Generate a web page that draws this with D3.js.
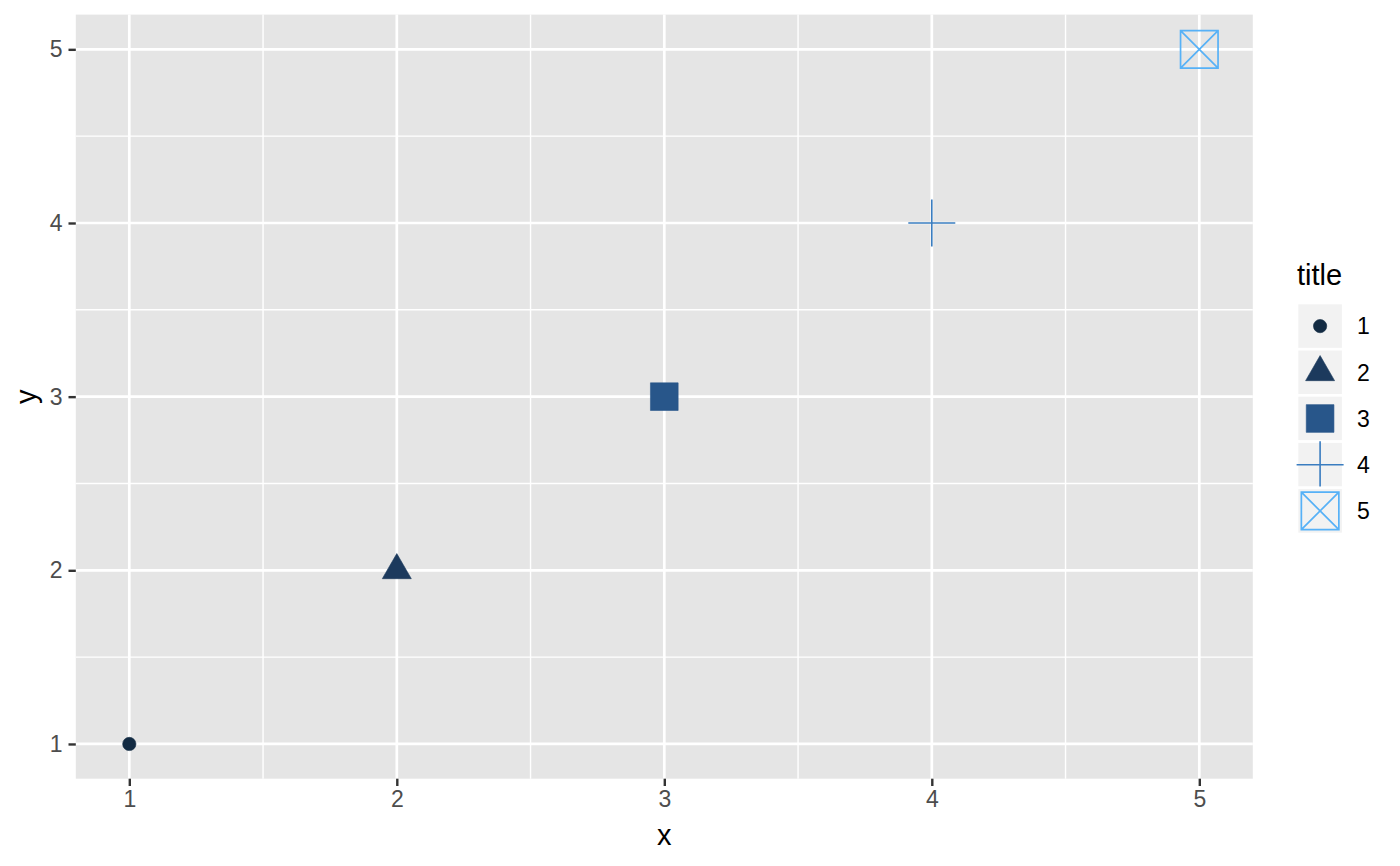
<!DOCTYPE html>
<html>
<head>
<meta charset="utf-8">
<script src="https://cdn.jsdelivr.net/npm/d3@7"></script>
<style>
  body { margin: 0; background: #fff; }
  text { font-family: "Liberation Sans", Helvetica, Arial, sans-serif; }
</style>
</head>
<body>
<div id="chart"></div>
<script>
// Data
const titles = ["1", "2", "3", "4", "5"];
const xValues = [1, 2, 3, 4, 5];
const yValues = [1, 2, 3, 4, 5];
const shapes = ["circle", "triangle", "square", "plus", "boxx"];
const xTicks = [1, 2, 3, 4, 5];
const yTicks = [1, 2, 3, 4, 5];
const xMinor = [1.5, 2.5, 3.5, 4.5];
const yMinor = [1.5, 2.5, 3.5, 4.5];

// Setup
const width = 1400, height = 866;
const margin = { top: 14.6, right: 147.2, bottom: 87.3, left: 75.8 };

const x = d3.scaleLinear()
  .domain([0.8, 5.2])
  .range([margin.left, width - margin.right]);

const y = d3.scaleLinear()
  .domain([0.8, 5.2])
  .range([height - margin.bottom, margin.top]);

// colours
const color = d3.scaleOrdinal()
  .domain(titles)
  .range(["#132B43", "#1C3A5D", "#28568A", "#3A7DC0", "#56B1F7"]);

// custom symbol types, ggplot-like sizes
const plusType = {
  draw(ctx, size) {
    const r = Math.sqrt(size) / 2;
    ctx.moveTo(-r, 0); ctx.lineTo(r, 0);
    ctx.moveTo(0, -r); ctx.lineTo(0, r);
  }
};
const boxXType = {
  draw(ctx, size) {
    const r = Math.sqrt(size) / 2;
    ctx.moveTo(-r, -r); ctx.lineTo(r, -r); ctx.lineTo(r, r); ctx.lineTo(-r, r); ctx.closePath();
    ctx.moveTo(-r, -r); ctx.lineTo(r, r);
    ctx.moveTo(r, -r); ctx.lineTo(-r, r);
  }
};
const symbolInfo = {
  circle:   { type: d3.symbolCircle,   size: 139, filled: true },
  triangle: { type: d3.symbolTriangle, size: 364, filled: true },
  square:   { type: d3.symbolSquare,   size: 767, filled: true },
  plus:     { type: plusType,          size: 47 * 47, filled: false, sw: 1.6 },
  boxx:     { type: boxXType,          size: 37.5 * 37.5, filled: false, sw: 1.7 }
};
const symbolPath = s => d3.symbol().type(symbolInfo[s].type).size(symbolInfo[s].size)();

const data = titles.map((t, i) => ({ title: t, x: xValues[i], y: yValues[i], shape: shapes[i] }));

// Figure
const svg = d3.select("#chart").append("svg")
  .attr("width", width)
  .attr("height", height);

// panel
svg.append("rect")
  .attr("x", x.range()[0])
  .attr("y", y.range()[1])
  .attr("width", x.range()[1] - x.range()[0])
  .attr("height", y.range()[0] - y.range()[1])
  .attr("fill", "#E5E5E5");

const grid = svg.append("g");
grid.selectAll(".xminor").data(xMinor).join("line")
  .attr("x1", d => x(d)).attr("x2", d => x(d))
  .attr("y1", y.range()[0]).attr("y2", y.range()[1])
  .attr("stroke", "#fff").attr("stroke-width", 1.4);
grid.selectAll(".yminor").data(yMinor).join("line")
  .attr("y1", d => y(d)).attr("y2", d => y(d))
  .attr("x1", x.range()[0]).attr("x2", x.range()[1])
  .attr("stroke", "#fff").attr("stroke-width", 1.4);
grid.selectAll(".xmajor").data(xTicks).join("line")
  .attr("x1", d => x(d)).attr("x2", d => x(d))
  .attr("y1", y.range()[0]).attr("y2", y.range()[1])
  .attr("stroke", "#fff").attr("stroke-width", 2.7);
grid.selectAll(".ymajor").data(yTicks).join("line")
  .attr("y1", d => y(d)).attr("y2", d => y(d))
  .attr("x1", x.range()[0]).attr("x2", x.range()[1])
  .attr("stroke", "#fff").attr("stroke-width", 2.7);

// axes
const xAxis = g => g
  .attr("transform", `translate(0,${y.range()[0]})`)
  .call(d3.axisBottom(x).tickValues(xTicks).tickFormat(d3.format("d")).tickSize(7.3).tickPadding(5))
  .call(g => g.select(".domain").remove())
  .call(g => g.selectAll(".tick line").attr("stroke", "#333").attr("stroke-width", 2.4))
  .call(g => g.selectAll(".tick text").attr("fill", "#4D4D4D").attr("font-size", 23)
    .attr("font-family", "Liberation Sans, Helvetica, Arial, sans-serif"));

const yAxis = g => g
  .attr("transform", `translate(${x.range()[0]},0)`)
  .call(d3.axisLeft(y).tickValues(yTicks).tickFormat(d3.format("d")).tickSize(7.3).tickPadding(6))
  .call(g => g.select(".domain").remove())
  .call(g => g.selectAll(".tick line").attr("stroke", "#333").attr("stroke-width", 2.4))
  .call(g => g.selectAll(".tick text").attr("fill", "#4D4D4D").attr("font-size", 23)
    .attr("font-family", "Liberation Sans, Helvetica, Arial, sans-serif"));

svg.append("g").call(xAxis);
svg.append("g").call(yAxis);

// axis titles
svg.append("text")
  .attr("x", (x.range()[0] + x.range()[1]) / 2)
  .attr("y", 845)
  .attr("text-anchor", "middle")
  .attr("font-size", 29)
  .text("x");

svg.append("text")
  .attr("transform", `translate(36,${(y.range()[0] + y.range()[1]) / 2}) rotate(-90)`)
  .attr("text-anchor", "middle")
  .attr("font-size", 29)
  .text("y");

// points
const drawSymbol = (sel) => sel
  .attr("d", d => symbolPath(d.shape))
  .attr("fill", d => symbolInfo[d.shape].filled ? color(d.title) : "none")
  .attr("stroke", d => color(d.title))
  .attr("stroke-width", d => symbolInfo[d.shape].filled ? 0.6 : symbolInfo[d.shape].sw);

svg.append("g")
  .selectAll("path")
  .data(data)
  .join("path")
  .attr("transform", d => `translate(${x(d.x)},${y(d.y)})`)
  .call(drawSymbol);

// legend
const legend = svg.append("g").attr("transform", "translate(1297,0)");
legend.append("text")
  .attr("x", 0)
  .attr("y", 285)
  .attr("font-size", 29)
  .text("title");

const keySize = 46.2;
const keys = legend.selectAll(".key")
  .data(data)
  .join("g")
  .attr("transform", (d, i) => `translate(0,${303 + i * keySize})`);

keys.append("rect")
  .attr("width", keySize)
  .attr("height", keySize)
  .attr("fill", "#F2F2F2")
  .attr("stroke", "#fff")
  .attr("stroke-width", 2.6);

keys.append("path")
  .attr("transform", `translate(${keySize / 2},${keySize / 2})`)
  .call(drawSymbol);

keys.append("text")
  .attr("x", 60)
  .attr("y", keySize / 2)
  .attr("dy", "0.36em")
  .attr("font-size", 23)
  .text(d => d.title);
</script>
</body>
</html>
